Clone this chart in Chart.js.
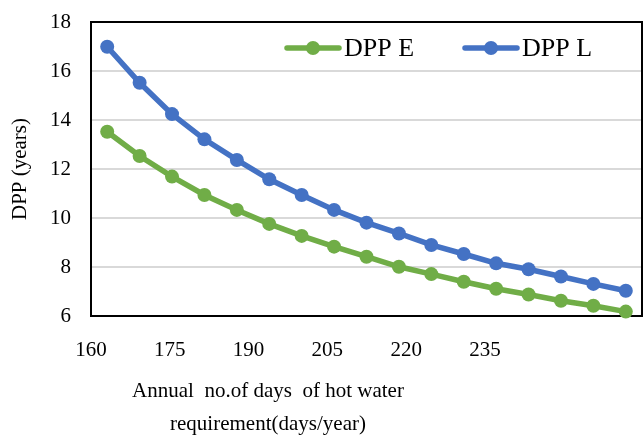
<!DOCTYPE html>
<html>
<head>
<meta charset="utf-8">
<script src="https://cdn.jsdelivr.net/npm/chart.js@4.4.1/dist/chart.umd.min.js"></script>
<style>
  html, body { margin: 0; padding: 0; background: #fff; }
  #wrap { width: 644px; height: 435px; }
</style>
</head>
<body>
<div id="wrap"><canvas id="chart"></canvas></div>
<script>
// Data
const days = [160, 165, 170, 175, 180, 185, 190, 195, 200, 205, 210, 215, 220, 225, 230, 235, 240];
const dppE = [13.52, 12.53, 11.69, 10.94, 10.33, 9.76, 9.27, 8.83, 8.42, 8.01, 7.71, 7.40, 7.11, 6.88, 6.62, 6.42, 6.18];
const dppL = [16.99, 15.52, 14.24, 13.21, 12.37, 11.58, 10.94, 10.33, 9.81, 9.37, 8.90, 8.53, 8.15, 7.91, 7.61, 7.31, 7.03];
const xTickLabels = [160, 175, 190, 205, 220, 235];
const seriesNames = ['DPP E', 'DPP L'];
const xTitle = ['Annual  no.of days  of hot water', 'requirement(days/year)'];

const GREEN = '#70ad47';
const BLUE = '#4472c4';
const serif = 'Liberation Serif, Times New Roman, serif';

// frame around the plot area
const framePlugin = {
  id: 'frame',
  beforeDatasetsDraw(chart) {
    const a = chart.chartArea, ctx = chart.ctx;
    ctx.save();
    ctx.strokeStyle = '#000';
    ctx.lineWidth = 2;
    ctx.strokeRect(a.left, a.top, a.right - a.left, a.bottom - a.top);
    ctx.restore();
  }
};

// Excel style legend inside the plot (line + dot + label), plus the x title
const extrasPlugin = {
  id: 'extras',
  afterDraw(chart) {
    const ctx = chart.ctx;
    const starts = [287, 465];
    const y = 48;
    ctx.save();
    chart.data.datasets.forEach((ds, i) => {
      const x0 = starts[i];
      ctx.strokeStyle = ds.borderColor;
      ctx.lineWidth = 5.5;
      ctx.lineCap = 'round';
      ctx.beginPath();
      ctx.moveTo(x0, y);
      ctx.lineTo(x0 + 52, y);
      ctx.stroke();
      ctx.fillStyle = ds.borderColor;
      ctx.beginPath();
      ctx.arc(x0 + 26, y, 7, 0, Math.PI * 2);
      ctx.fill();
      ctx.fillStyle = '#000';
      ctx.font = '26px ' + serif;
      ctx.textBaseline = 'middle';
      ctx.textAlign = 'left';
      ctx.fillText(ds.label, x0 + 57, y + 1);
    });

    // axis title sits under the tick labels, not centred on the plot
    ctx.font = '21px ' + serif;
    ctx.fillStyle = '#000';
    ctx.textAlign = 'center';
    ctx.textBaseline = 'middle';
    xTitle.forEach((line, i) => ctx.fillText(line, 268, 391 + i * 33));
    ctx.restore();
  }
};

const ctx = document.getElementById('chart').getContext('2d');
new Chart(ctx, {
  type: 'line',
  data: {
    datasets: [
      {
        label: seriesNames[0],
        data: days.map((d, i) => ({ x: d, y: dppE[i] })),
        borderColor: GREEN,
        backgroundColor: GREEN,
        borderWidth: 5.5,
        pointRadius: 7,
        pointBorderWidth: 0,
        pointBackgroundColor: GREEN,
        clip: false,
        xAxisID: 'x'
      },
      {
        label: seriesNames[1],
        data: days.map((d, i) => ({ x: d, y: dppL[i] })),
        borderColor: BLUE,
        backgroundColor: BLUE,
        borderWidth: 5.5,
        pointRadius: 7,
        pointBorderWidth: 0,
        pointBackgroundColor: BLUE,
        clip: false,
        xAxisID: 'x'
      }
    ]
  },
  options: {
    responsive: true,
    maintainAspectRatio: false,
    animation: false,
    layout: { autoPadding: false, padding: { top: 22, right: 2, left: 0, bottom: 0 } },
    plugins: {
      legend: { display: false },
      tooltip: { enabled: false }
    },
    scales: {
      x: {
        type: 'linear',
        min: 157.5,
        max: 242.5,
        display: false
      },
      xl: {
        type: 'linear',
        position: 'bottom',
        min: 160,
        max: 264.9,
        grid: { display: false, drawTicks: false },
        border: { display: false },
        afterBuildTicks(scale) {
          scale.ticks = xTickLabels.map(v => ({ value: v }));
        },
        ticks: {
          color: '#000',
          font: { family: serif, size: 21 },
          padding: 22,
          maxRotation: 0,
          autoSkip: false
        },
        afterFit(scale) {
          scale.height = 119;
          scale.paddingLeft = 0;
          scale.paddingRight = 0;
        }
      },
      y: {
        min: 6,
        max: 18,
        ticks: {
          stepSize: 2,
          color: '#000',
          font: { family: serif, size: 21 },
          padding: 20
        },
        grid: { color: '#d9d9d9', lineWidth: 2, drawTicks: false },
        border: { display: false },
        title: {
          display: true,
          text: 'DPP (years)',
          color: '#000',
          font: { family: serif, size: 21 },
          padding: { top: 8, bottom: 0 }
        },
        afterFit(scale) {
          scale.width = 91;
          scale.paddingTop = 0;
          scale.paddingBottom = 0;
        }
      }
    }
  },
  plugins: [framePlugin, extrasPlugin]
});
</script>
</body>
</html>
